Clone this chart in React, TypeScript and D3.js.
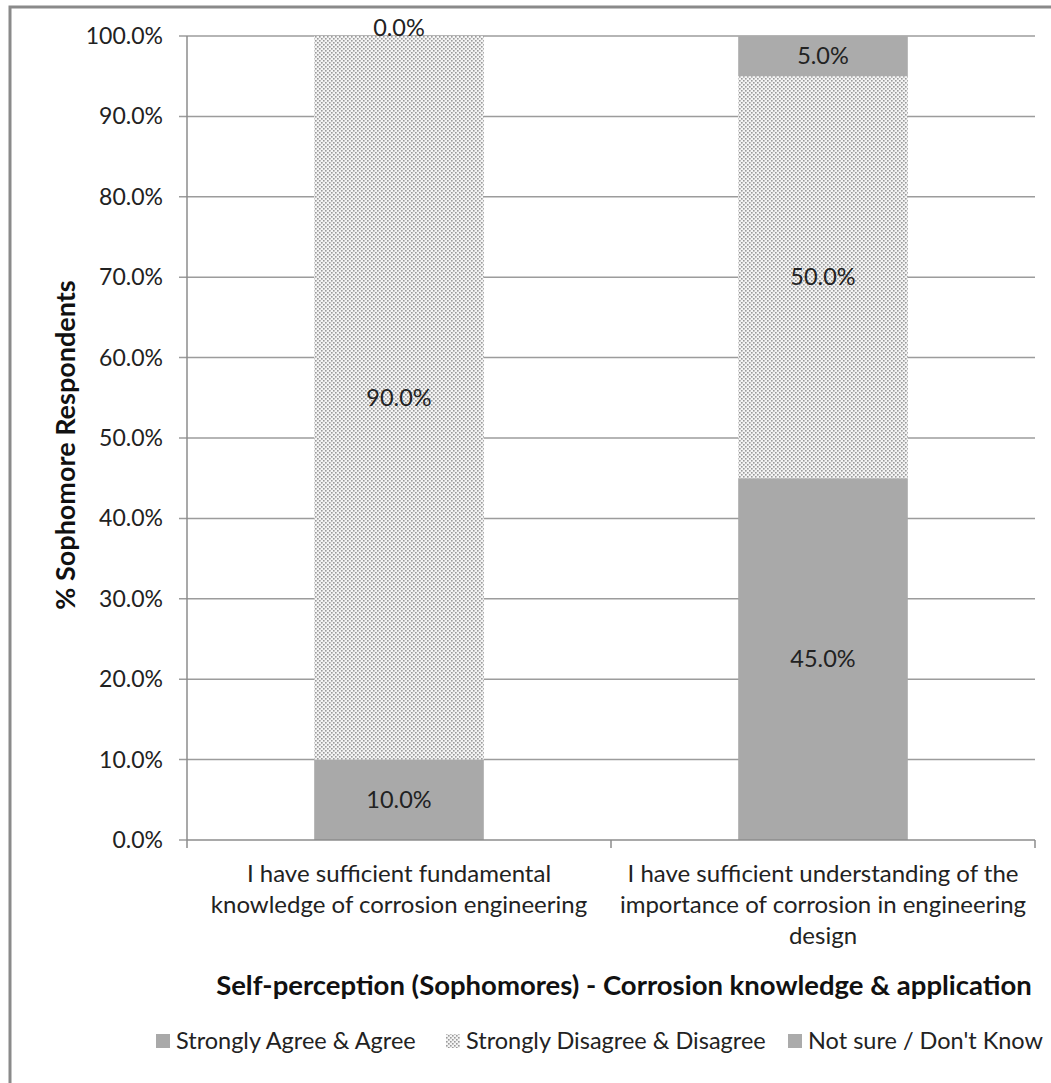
import * as d3 from "d3";

const W = 1051;
const H = 1083;
const MARGIN = { top: 36, right: 16, bottom: 243, left: 187 };

const categories = [
  ["I have sufficient fundamental", "knowledge of corrosion engineering"],
  ["I have sufficient understanding of the", "importance of corrosion in engineering", "design"],
];
const seriesNames = ["Strongly Agree & Agree", "Strongly Disagree & Disagree", "Not sure / Don't Know"];
const agree = [0.1, 0.45];
const disagree = [0.9, 0.5];
const notSure = [0.0, 0.05];
const yTicks = [0, 0.1, 0.2, 0.3, 0.4, 0.5, 0.6, 0.7, 0.8, 0.9, 1.0];

const FONT = "Lato, 'Open Sans', sans-serif";
const fills = ["#a9a9a9", "url(#dots)", "#ababab"];

export default function App() {
  const boundsWidth = W - MARGIN.left - MARGIN.right;
  const boundsHeight = H - MARGIN.top - MARGIN.bottom;
  const fmt = d3.format(".1%");

  const xScale = d3
    .scaleBand()
    .domain(categories.map((_, i) => String(i)))
    .range([0, boundsWidth])
    .paddingInner(0.6)
    .paddingOuter(0.3);
  const yScale = d3.scaleLinear().domain([0, 1]).range([boundsHeight, 0]);

  const stackData = categories.map((_, i) => ({
    key: String(i),
    s0: agree[i],
    s1: disagree[i],
    s2: notSure[i],
  }));
  const stacked = d3.stack<any>().keys(["s0", "s1", "s2"])(stackData);

  const step = boundsWidth / categories.length;

  // legend positions
  const legendX = [156, 446, 788];

  return (
    <svg width={W} height={H} style={{ position: "absolute", left: 0, top: 0, background: "#fff" }}>
      <defs>
        <pattern id="dots" width="4" height="4" patternUnits="userSpaceOnUse">
          <rect width="4" height="4" fill="#f4f4f4" />
          <rect x="0" y="0" width="1.6" height="1.6" fill="#9a9a9a" />
          <rect x="2" y="2" width="1.6" height="1.6" fill="#9a9a9a" />
        </pattern>
      </defs>
      {/* outer frame, cropped at right and bottom */}
      <rect x={10} y={7} width={W + 20} height={H + 20} fill="none" stroke="#8a8a8a" strokeWidth={3} />

      <g transform={`translate(${MARGIN.left},${MARGIN.top})`} fontFamily={FONT}>
        {/* gridlines + y ticks */}
        {yTicks.map((t) => (
          <g key={t} transform={`translate(0,${yScale(t)})`}>
            <line x1={-8} x2={t === 0 ? 0 : boundsWidth} stroke="#9c9c9c" strokeWidth={1.5} />
            <text x={-24} dy="0.35em" textAnchor="end" fontSize={23} fill="#222">
              {fmt(t)}
            </text>
          </g>
        ))}

        {/* bars */}
        {stacked.map((layer, si) =>
          layer.map((d, ci) => {
            const x = xScale(String(ci))!;
            const y0 = yScale(d[0]);
            const y1 = yScale(d[1]);
            const cy = (y0 + y1) / 2;
            return (
              <g key={`${si}-${ci}`}>
                <rect x={x} y={y1} width={xScale.bandwidth()} height={y0 - y1} fill={fills[si]} />
                <text
                  x={x + xScale.bandwidth() / 2}
                  y={d[1] - d[0] === 0 ? cy - 8 : cy}
                  dy="0.35em"
                  textAnchor="middle"
                  fontSize={23.5}
                  fill="#222"
                >
                  {fmt(d[1] - d[0])}
                </text>
              </g>
            );
          })
        )}

        {/* axes lines */}
        <line x1={0} x2={0} y1={0} y2={boundsHeight + 8} stroke="#8c8c8c" strokeWidth={1.5} />
        <line x1={0} x2={boundsWidth} y1={boundsHeight} y2={boundsHeight} stroke="#8c8c8c" strokeWidth={1.5} />
        {categories.map((_, i) => (
          <line
            key={i}
            x1={(i + 1) * step}
            x2={(i + 1) * step}
            y1={boundsHeight}
            y2={boundsHeight + 8}
            stroke="#8c8c8c"
            strokeWidth={1.5}
          />
        ))}

        {/* category labels */}
        {categories.map((lines, i) => (
          <text
            key={i}
            x={xScale(String(i))! + xScale.bandwidth() / 2}
            y={boundsHeight + 42}
            textAnchor="middle"
            fontSize={24}
            fill="#222"
          >
            {lines.map((l, j) => (
              <tspan key={j} x={xScale(String(i))! + xScale.bandwidth() / 2} dy={j === 0 ? 0 : 31}>
                {l}
              </tspan>
            ))}
          </text>
        ))}
      </g>

      {/* y axis title */}
      <text
        transform={`translate(75,${MARGIN.top + boundsHeight / 2 + 7}) rotate(-90)`}
        textAnchor="middle"
        fontFamily={FONT}
        fontWeight="bold"
        fontSize={27}
        fill="#111"
      >
        % Sophomore Respondents
      </text>

      {/* x axis title */}
      <text x={624} y={995} textAnchor="middle" fontFamily={FONT} fontWeight="bold" fontSize={27.5} fill="#111">
        Self-perception (Sophomores) - Corrosion knowledge &amp; application
      </text>

      {/* legend */}
      {seriesNames.map((name, i) => (
        <g key={name} transform={`translate(${legendX[i]},1041)`}>
          <rect x={0} y={-7} width={14} height={14} fill={fills[i]} />
          <text x={20} dy="0.35em" fontFamily={FONT} fontSize={23.5} fill="#222">
            {name}
          </text>
        </g>
      ))}
    </svg>
  );
}
